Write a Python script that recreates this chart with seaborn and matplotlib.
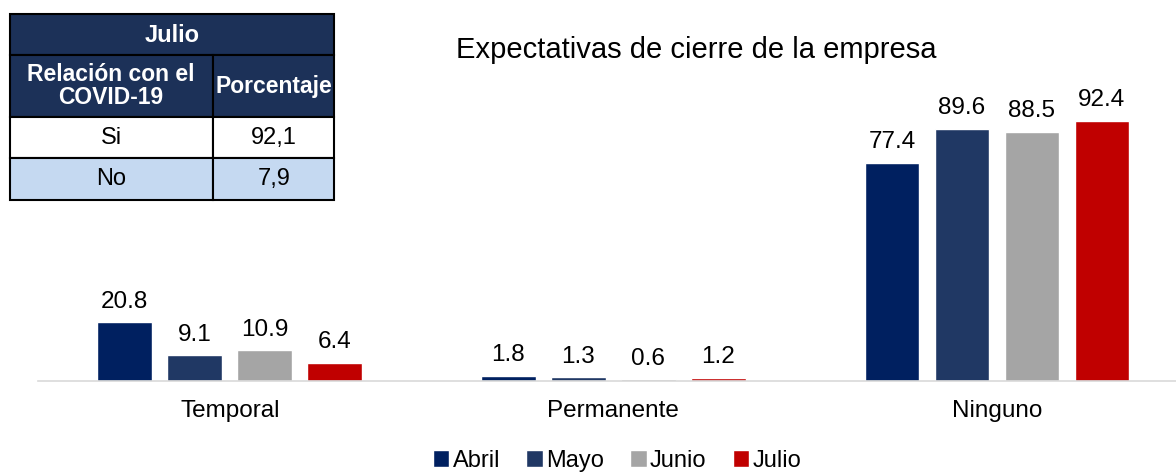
import matplotlib
matplotlib.use("Agg")
import matplotlib.pyplot as plt
from matplotlib.patches import Rectangle
import seaborn as sns
import pandas as pd

categorias = ["Temporal", "Permanente", "Ninguno"]
meses = ["Abril", "Mayo", "Junio", "Julio"]
abril = [20.8, 1.8, 77.4]
mayo = [9.1, 1.3, 89.6]
junio = [10.9, 0.6, 88.5]
julio = [6.4, 1.2, 92.4]

tabla_titulo = "Julio"
tabla_columnas = ["Relación con el\nCOVID-19", "Porcentaje"]
tabla_filas = ["Si", "No"]
tabla_valores = ["92,1", "7,9"]

colores = ["#002060", "#203864", "#A5A5A5", "#C00000"]

sns.set_theme(style="white")
plt.rcParams["font.family"] = ["Liberation Sans", "DejaVu Sans"]
plt.rcParams["text.color"] = "black"
plt.rcParams["xtick.color"] = "black"

df = pd.DataFrame({
    "Categoria": categorias * 4,
    "Mes": [m for m in meses for _ in categorias],
    "Valor": abril + mayo + junio + julio,
})

fig = plt.figure(figsize=(11.76, 4.73), dpi=100)
W, H = 1176, 473
ax = fig.add_axes([38 / W, (H - 381) / H, (W - 38) / W, 281.5 / H])

sns.barplot(data=df, x="Categoria", y="Valor", hue="Mes", order=categorias,
            hue_order=meses, palette=colores, width=0.73, gap=0.22,
            saturation=1, ax=ax, legend=True)

for cont in ax.containers:
    ax.bar_label(cont, fmt="%.1f", padding=7, fontsize=17.5, clip_on=False)

ax.set_ylim(0, 100)
ax.set_xlim(-0.5, 2.467)
ax.set_xlabel("")
ax.set_ylabel("")
ax.set_yticks([])
ax.tick_params(axis="x", labelsize=17.5, length=0, pad=14)
for s in ["top", "right", "left"]:
    ax.spines[s].set_visible(False)
ax.spines["bottom"].set_color("#D9D9D9")
ax.spines["bottom"].set_linewidth(1.2)

handles, labels = ax.get_legend_handles_labels()
ax.get_legend().remove()
fig.legend(handles, labels, loc="center", bbox_to_anchor=(617 / W, 1 - 461 / H),
           ncol=4, frameon=False, fontsize=17, handlelength=0.7,
           handleheight=0.7, handletextpad=0.15, columnspacing=1.1)

fig.text(456 / W, 1 - 50 / H, "Expectativas de cierre de la empresa",
         fontsize=21, ha="left", va="center")

# tabla superior izquierda
def caja(x0, y0, x1, y1, color):
    fig.patches.append(Rectangle((x0 / W, 1 - y1 / H), (x1 - x0) / W, (y1 - y0) / H,
                                 transform=fig.transFigure, facecolor=color,
                                 edgecolor="black", linewidth=1.5))

def texto(x, y, s, **kw):
    fig.text(x / W, 1 - y / H, s, ha="center", va="center", **kw)

navy = "#1C3158"
caja(10, 14, 334, 55, navy)
caja(10, 55, 213, 117, navy)
caja(213, 55, 334, 117, navy)
caja(10, 117, 213, 158, "white")
caja(213, 117, 334, 158, "white")
caja(10, 158, 213, 200, "#C5D9F1")
caja(213, 158, 334, 200, "#C5D9F1")

texto(172, 35, tabla_titulo, color="white", fontsize=17, fontweight="bold")
texto(111, 86, tabla_columnas[0], color="white", fontsize=16.5,
      fontweight="bold", linespacing=1.05)
texto(274, 86, tabla_columnas[1], color="white", fontsize=16.5, fontweight="bold")
for i, (f, v) in enumerate(zip(tabla_filas, tabla_valores)):
    yc = 138 + i * 41
    texto(111, yc, f, fontsize=17)
    texto(274, yc, v, fontsize=17)

fig.savefig("out.png", dpi=100)
